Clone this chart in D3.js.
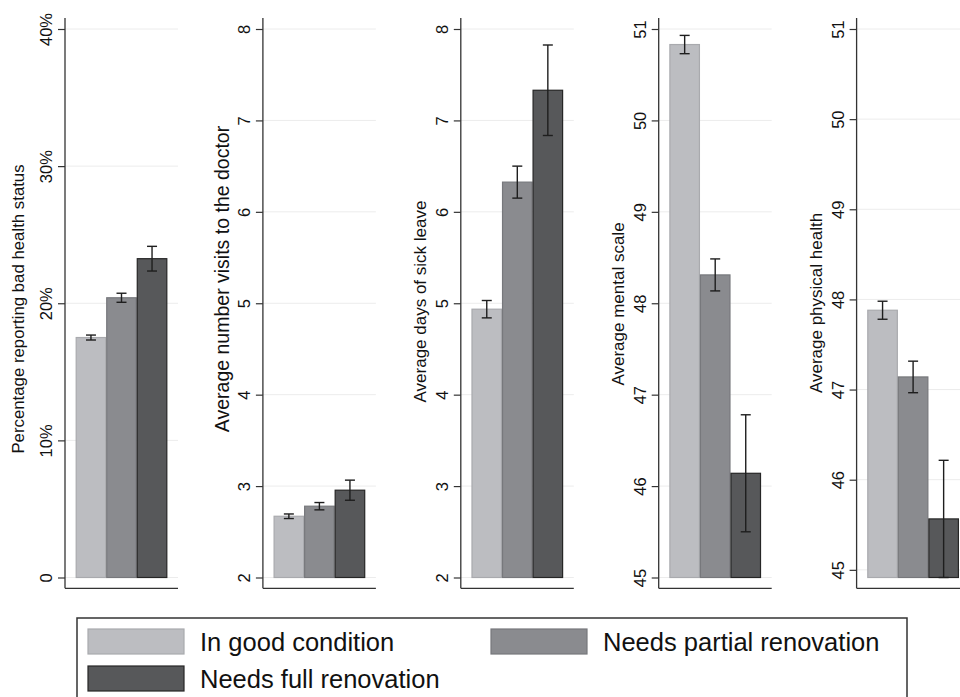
<!DOCTYPE html>
<html>
<head>
<meta charset="utf-8">
<script src="https://cdn.jsdelivr.net/npm/d3@7"></script>
<style>
  html, body { margin: 0; padding: 0; background: #fff; }
  svg { display: block; font-family: "Liberation Sans", Arial, Helvetica, sans-serif; }
</style>
</head>
<body>
<svg id="chart" width="960" height="697"></svg>
<script>
// Dwelling condition groups (one bar per group in each panel)
const categories = ["In good condition", "Needs partial renovation", "Needs full renovation"];

// Panel y-axis titles
const panelTitles = [
  "Percentage reporting bad health status",
  "Average number visits to the doctor",
  "Average days of sick leave",
  "Average mental scale",
  "Average physical health"
];

// Means per group and half-width of the confidence interval
const badHealthPct   = [17.5, 20.4, 23.25];
const badHealthCI    = [0.18, 0.33, 0.9];
const doctorVisits   = [2.67, 2.78, 2.955];
const doctorVisitsCI = [0.025, 0.04, 0.11];
const sickLeaveDays  = [4.935, 6.325, 7.33];
const sickLeaveCI    = [0.095, 0.175, 0.495];
const mentalScale    = [50.83, 48.31, 46.14];
const mentalScaleCI  = [0.1, 0.175, 0.64];
const physicalHealth = [47.88, 47.14, 45.565];
const physicalCI     = [0.1, 0.175, 0.65];

// Tick labels per panel
const pctTicks    = [0, 10, 20, 30, 40];
const countTicks  = [2, 3, 4, 5, 6, 7, 8];
const scoreTicks  = [45, 46, 47, 48, 49, 50, 51];

const panels = [
  { title: panelTitles[0], values: badHealthPct,   ci: badHealthCI,    ticks: pctTicks,   fmt: d => d === 0 ? "0" : d + "%" },
  { title: panelTitles[1], values: doctorVisits,   ci: doctorVisitsCI, ticks: countTicks, fmt: d => String(d) },
  { title: panelTitles[2], values: sickLeaveDays,  ci: sickLeaveCI,    ticks: countTicks, fmt: d => String(d) },
  { title: panelTitles[3], values: mentalScale,    ci: mentalScaleCI,  ticks: scoreTicks, fmt: d => String(d) },
  { title: panelTitles[4], values: physicalHealth, ci: physicalCI,     ticks: scoreTicks, fmt: d => String(d) }
];

// Title placement and size for each panel
const titleLayout = [
  { x: -41, y: 309, size: 16.8 },
  { x: -34, y: 279, size: 19.5 },
  { x: -35, y: 301.5, size: 17 },
  { x: -35, y: 304, size: 17 },
  { x: -35, y: 303, size: 17 }
];

const fills   = ["#bcbdc1", "#8a8b8f", "#57585a"];
const strokes = ["#a9aaae", "#77787c", "#262626"];

const svg = d3.select("#chart");

const firstAxisX = 65, panelStep = 197.9, panelWidth = 113;
const plotTop = 29, plotBottom = 577.5, axisTop = 18, axisBottom = 588.3;

panels.forEach((p, i) => {
  const ax = firstAxisX + i * panelStep;
  const g = svg.append("g").attr("transform", `translate(${ax},0)`);

  // base of bars: lowest tick, or lower if a confidence bound goes below it
  const lowest = d3.min(p.values.map((v, k) => v - p.ci[k]));
  const lo = Math.min(d3.min(p.ticks), lowest);
  const hi = d3.max(p.ticks);

  const y = d3.scaleLinear().domain([lo, hi]).range([plotBottom, plotTop]);
  const x = d3.scaleBand().domain(categories).range([0, panelWidth])
    .paddingInner(0).paddingOuter(0.35);

  // gridlines
  g.append("g").selectAll("line").data(p.ticks).join("line")
    .attr("x1", 0).attr("x2", panelWidth)
    .attr("y1", d => y(d)).attr("y2", d => y(d))
    .attr("stroke", "#ececec").attr("stroke-width", 1);

  const rows = categories.map((c, k) => ({ c, v: p.values[k], e: p.ci[k], k }));

  // bars
  g.append("g").selectAll("rect").data(rows).join("rect")
    .attr("x", d => x(d.c) + 0.5)
    .attr("width", x.bandwidth() - 1)
    .attr("y", d => y(d.v))
    .attr("height", d => y(lo) - y(d.v))
    .attr("fill", d => fills[d.k])
    .attr("stroke", d => strokes[d.k])
    .attr("stroke-width", 1.2);

  // confidence intervals
  const eb = g.append("g").selectAll("g").data(rows).join("g")
    .attr("stroke", "#1e1e1e").attr("stroke-width", 1.4);
  const cx = d => x(d.c) + x.bandwidth() / 2;
  eb.append("line")
    .attr("x1", cx).attr("x2", cx)
    .attr("y1", d => y(d.v - d.e)).attr("y2", d => y(d.v + d.e));
  eb.append("line")
    .attr("x1", d => cx(d) - 5).attr("x2", d => cx(d) + 5)
    .attr("y1", d => y(d.v + d.e)).attr("y2", d => y(d.v + d.e));
  eb.append("line")
    .attr("x1", d => cx(d) - 5).attr("x2", d => cx(d) + 5)
    .attr("y1", d => y(d.v - d.e)).attr("y2", d => y(d.v - d.e));

  // y axis with rotated labels
  const yAxis = g.append("g")
    .call(d3.axisLeft(y).tickValues(p.ticks).tickSize(7).tickFormat(p.fmt));
  yAxis.select(".domain").remove();
  yAxis.selectAll(".tick line").attr("stroke", "#333").attr("stroke-width", 1.2);
  yAxis.selectAll(".tick text")
    .attr("transform", "rotate(-90)")
    .attr("x", 0).attr("y", -13).attr("dy", 0)
    .attr("text-anchor", "middle")
    .attr("font-size", 16.5).attr("fill", "#111");

  // axis lines
  g.append("line").attr("x1", 0).attr("x2", 0)
    .attr("y1", axisTop).attr("y2", axisBottom)
    .attr("stroke", "#333").attr("stroke-width", 1.3);
  g.append("line").attr("x1", 0).attr("x2", panelWidth)
    .attr("y1", axisBottom).attr("y2", axisBottom)
    .attr("stroke", "#333").attr("stroke-width", 1.3);

  // axis title
  const tl = titleLayout[i];
  g.append("text")
    .attr("transform", `translate(${tl.x},${tl.y}) rotate(-90)`)
    .attr("text-anchor", "middle")
    .attr("font-size", tl.size).attr("fill", "#111")
    .text(p.title);
});

// legend
const legend = svg.append("g");
legend.append("rect")
  .attr("x", 77).attr("y", 618).attr("width", 830).attr("height", 100)
  .attr("fill", "#fff").attr("stroke", "#333").attr("stroke-width", 1.5);

const legendPos = [
  { x: 88, y: 629 },
  { x: 491, y: 629 },
  { x: 88, y: 666 }
];
const items = legend.selectAll("g.item").data(categories).join("g")
  .attr("class", "item")
  .attr("transform", (d, k) => `translate(${legendPos[k].x},${legendPos[k].y})`);
items.append("rect")
  .attr("width", 96).attr("height", 25)
  .attr("fill", (d, k) => fills[k])
  .attr("stroke", (d, k) => strokes[k]).attr("stroke-width", 1.2);
items.append("text")
  .attr("x", 112).attr("y", 12.5).attr("dy", "0.36em")
  .attr("font-size", 25.5).attr("fill", "#111")
  .text(d => d);
</script>
</body>
</html>
